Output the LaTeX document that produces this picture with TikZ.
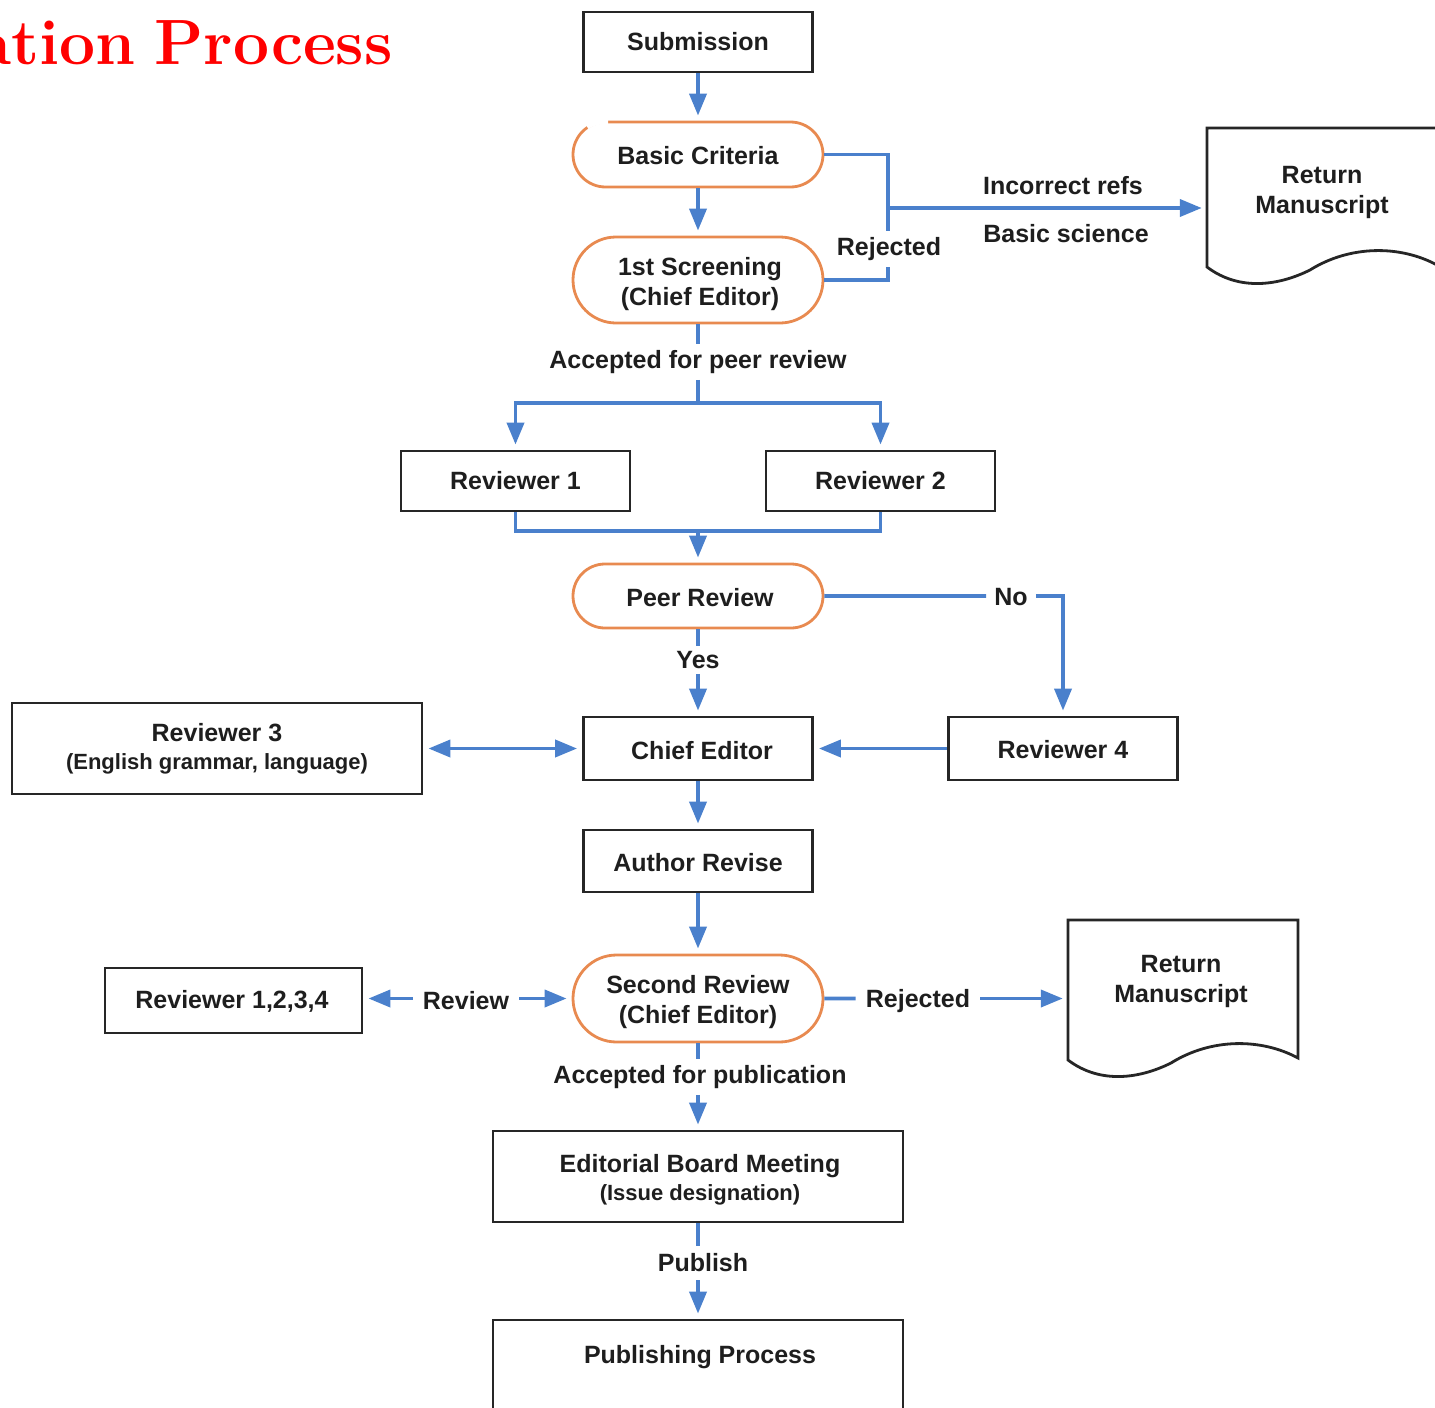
\documentclass[tikz,border=0pt]{standalone}
\usepackage{fontspec}
\newfontfamily\lsans{Liberation Sans}
\usetikzlibrary{arrows.meta,shapes.misc}
\definecolor{fblue}{RGB}{74,128,204}
\definecolor{forange}{RGB}{232,138,80}
\definecolor{ftext}{RGB}{30,30,30}
\newcommand\smalltxt{\fontsize{22}{27}\selectfont}
\begin{document}
\begin{tikzpicture}[x=1pt,y=-1pt,
 every node/.style={font=\lsans\bfseries\fontsize{25}{30}\selectfont, text=ftext, align=center},
 box/.style={draw=black!85, line width=2.8pt, minimum width=229pt, minimum height=60pt, inner sep=0pt},
 stad/.style={rounded rectangle, draw=forange, line width=2.8pt, minimum width=250pt, inner sep=0pt},
 conn/.style={draw=fblue, line width=3.8pt},
 tip/.tip={Triangle[length=22pt,width=17pt]},
 arr/.style={conn, -tip, shorten >=5pt},
 lbl/.style={fill=white, inner sep=6pt},
 docshape/.style={draw=black!85, line width=2.8pt, fill=white}
]
\useasboundingbox (0,0) rectangle (1435,1408);

% title (clipped at left, as in the reference)
\node[anchor=base east, inner sep=0pt, text=red, font=\rmfamily\bfseries\fontsize{64}{76}\selectfont] (title) at (393,64) {ation\hspace{19pt}Process};

% document shapes
\draw[docshape] (1207,128) -- (1437,128) -- (1437,265)
  .. controls (1400,245) and (1350,245) .. (1310,270)
  .. controls (1280,285) and (1240,292) .. (1207,267) -- cycle;
\draw[docshape] (1068,920) -- (1298,920) -- (1298,1058)
  .. controls (1261,1038) and (1211,1038) .. (1171,1063)
  .. controls (1141,1078) and (1101,1085) .. (1068,1060) -- cycle;
\node[minimum width=230pt, minimum height=139pt, inner sep=0pt] (ret1) at (1322,197.5) {};
\node (ret1t) at (1322,192) {Return\\Manuscript};
\node[minimum width=230pt, minimum height=140pt, inner sep=0pt] (ret2) at (1183,990) {};
\node (ret2t) at (1181,981) {Return\\Manuscript};

% main nodes
\node[box] (sub) at (698,42) {Submission};
\node[stad, minimum height=65pt] (bc) at (698,154.5) {};
\node (bct) at (698,155.5) {Basic Criteria};
\node[stad, minimum height=86pt] (scr) at (698,280) {};
\node (scrt) at (700,284) {1st Screening\\(Chief Editor)};
\node[box] (r1) at (515.5,481) {Reviewer 1};
\node[box] (r2) at (880.5,481) {Reviewer 2};
\node[stad, minimum height=64pt] (peer) at (698,596) {};
\node (peert) at (700,597.5) {Peer Review};
\node[box, minimum height=63pt] (chief) at (698,748.5) {};
\node (chieft) at (702,750.5) {Chief Editor};
\node[box, minimum height=63pt] (r4) at (1063,748.5) {};
\node (r4t) at (1063,750) {Reviewer 4};
\node[box, minimum width=410pt, minimum height=91pt] (r3) at (217,748.5) {Reviewer 3\\[-2pt]{\smalltxt(English grammar, language)}};
\node[box, minimum height=62pt] (ar) at (698,861) {};
\node (art) at (698,862.5) {Author Revise};
\node[stad, minimum height=87pt] (sec) at (698,998.5) {};
\node (sect) at (698,1002) {Second Review\\(Chief Editor)};
\node[box, minimum width=257pt, minimum height=65pt] (r1234) at (233.5,1000.5) {};
\node (r1234t) at (232,1001.5) {Reviewer 1,2,3,4};
\node[box, minimum width=410pt, minimum height=91pt] (ebm) at (698,1176.5) {};
\node (ebmt) at (700,1180) {Editorial Board Meeting\\[-2pt]{\smalltxt(Issue designation)}};
\node[box, minimum width=410pt, minimum height=92pt] (pp) at (698,1366) {};
\node (ppt) at (700,1357) {Publishing Process};

% small gap in the outline of Basic Criteria (top-left)
\draw[white, line width=4.5pt] (608,122) -- (604.5,122) arc[start angle=-90, end angle=-122, radius=32.5];

% connectors
\draw[arr] (sub) -- (bc);
\draw[arr] (bc) -- (scr);
\coordinate (rj) at (888,208);
\draw[conn] (bc.east) -| (rj);
\draw[conn] (scr.east) -| (rj);
\node[lbl] (rejl) at (889,249) {Rejected};
\draw[arr] (rj) -- (rj -| ret1.west);
\node (incl) at (1063,186) {Incorrect refs};
\node (bsl) at (1066,234) {Basic science};

\node[lbl] (apr) at (698,362) {Accepted for peer review};
\coordinate (sp1) at (698,403);
\draw[conn] (scr) -- (apr);
\draw[conn] (apr) -- (sp1);
\draw[arr] (sp1) -| (r1);
\draw[arr] (sp1) -| (r2);
\coordinate (sp2) at (698,531);
\draw[conn] (r1) |- (sp2);
\draw[conn] (r2) |- (sp2);
\draw[arr] (sp2) -- (peer);

\node[inner sep=5pt] (yes) at (698,660) {Yes};
\draw[conn] (peer) -- (yes);
\draw[arr] (yes) -- (chief);
\node[inner sep=8pt] (no) at (1011,597) {No};
\draw[conn] (peer) -- (peer -| no.west);
\draw[arr] (no.east |- peer) -| (r4);
\draw[arr] (r4) -- (chief);
\draw[arr, tip-tip, shorten <=5pt] (r3) -- (chief);
\draw[arr] (chief) -- (ar);
\draw[arr] (ar) -- (sec);

\node[inner sep=10pt] (rv) at (466,1001) {Review};
\draw[arr] (rv.west |- sec) -- (r1234.east |- sec);
\draw[arr] (rv.east |- sec) -- (sec);
\node[inner sep=10pt] (rej2) at (918,1001) {Rejected};
\draw[conn] (sec) -- (rej2.west |- sec);
\draw[arr] (rej2.east |- sec) -- (sec -| ret2.west);

\node[inner sep=6pt] (apub) at (700,1077) {Accepted for publication};
\draw[conn] (sec) -- (sec |- apub.north);
\draw[arr] (apub.south -| sec) -- (ebm);
\node[inner sep=8pt] (pubL) at (703,1263) {Publish};
\draw[conn] (ebm) -- (ebm |- pubL.north);
\draw[arr] (pubL.south -| ebm) -- (pp);
\end{tikzpicture}
\end{document}
